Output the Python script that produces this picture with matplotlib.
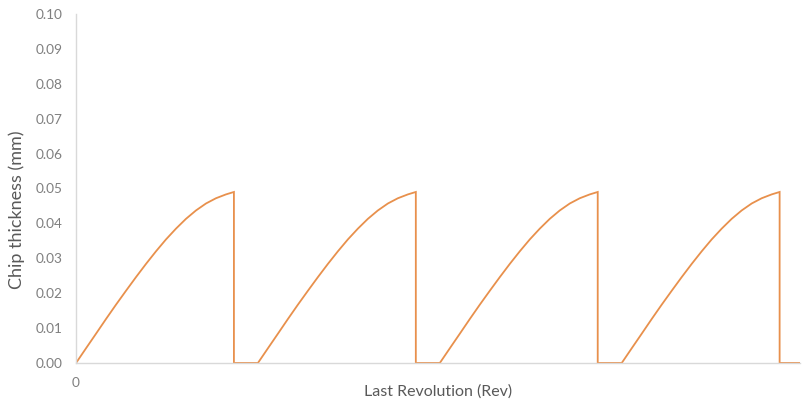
import numpy as np
import matplotlib.pyplot as plt

plt.rcParams['font.family'] = ['Lato', 'DejaVu Sans']

# one chip-thickness tooth profile (offset within tooth in rev, thickness in mm)
tooth_offset = [0.0, 0.0137, 0.0275, 0.0412, 0.0549, 0.0687, 0.0824, 0.0962, 0.1099,
                0.1236, 0.1374, 0.1511, 0.1648, 0.1786, 0.1923, 0.2060, 0.2170]
tooth_thickness = [0.0, 0.0042, 0.0084, 0.0126, 0.0167, 0.0207, 0.0246, 0.0284, 0.0320,
                   0.0354, 0.0385, 0.0413, 0.0437, 0.0457, 0.0472, 0.0483, 0.0490]
tooth_starts = [0.0, 0.25, 0.50, 0.75]
rev_end = 0.995

xs, ys = [], []
for start in tooth_starts:
    xs += [start + o for o in tooth_offset]
    ys += tooth_thickness
    # cutter leaves the material: thickness drops to zero
    xs.append(start + tooth_offset[-1])
    ys.append(0.0)
xs.append(rev_end)
ys.append(0.0)

fig = plt.figure(figsize=(8.02, 4.03), dpi=100)
ax = fig.add_axes([0.0948, 0.0993, 0.9027, 0.866])
ax.plot(xs, ys, color='#E8904C', lw=1.3, solid_joinstyle='miter')

ax.set_xlim(0, rev_end)
ax.set_ylim(0, 0.10)
yt = np.arange(0, 0.101, 0.01)
ax.set_yticks(yt)
ax.set_yticklabels([f'{v:.2f}' for v in yt])
ax.set_xticks([0])
ax.set_xticklabels(['0'])

for side in ['top', 'right']:
    ax.spines[side].set_visible(False)
for side in ['left', 'bottom']:
    ax.spines[side].set_color('#D9D9D9')
    ax.spines[side].set_linewidth(1.0)
ax.tick_params(length=0, colors='#7F7F7F', labelsize=9.8, pad=10)

ax.set_ylabel('Chip thickness (mm)', fontsize=13, color='#595959', va='center')
ax.yaxis.set_label_coords(-0.0815, 0.44)
ax.set_xlabel('Last Revolution (Rev)', fontsize=11.5, color='#595959', va='center')
ax.xaxis.set_label_coords(0.5, -0.083)

fig.savefig('out.png', dpi=100)
